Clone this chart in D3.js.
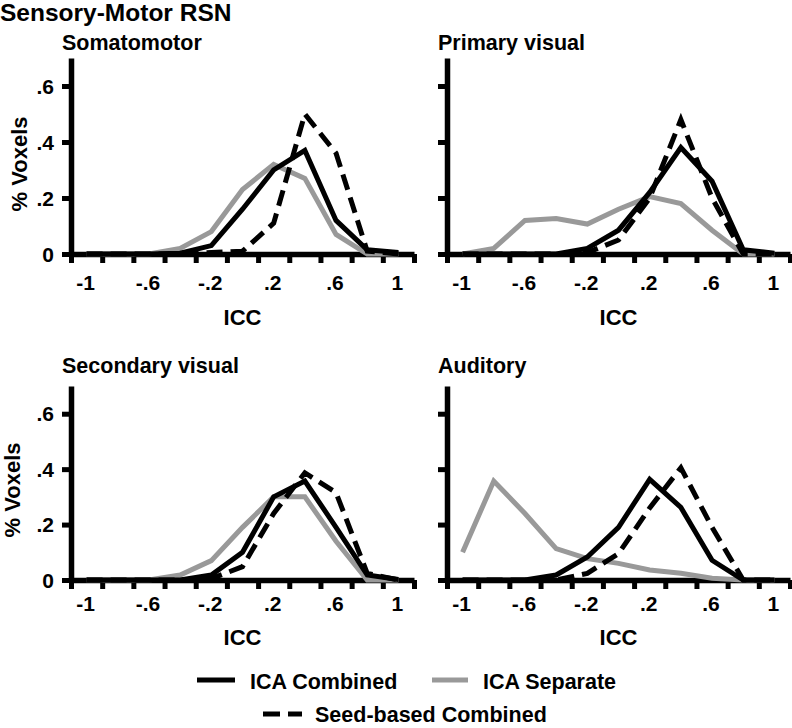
<!DOCTYPE html>
<html>
<head>
<meta charset="utf-8">
<script src="https://cdn.jsdelivr.net/npm/d3@7"></script>
<style>
  body { margin: 0; background: #fff; }
  svg { display: block; font-family: "Liberation Sans", Arial, sans-serif; font-weight: bold; }
</style>
</head>
<body>
<svg id="chart" width="792" height="728"></svg>
<script>
// ICC bin centres and tick labels
var bins = [-1, -0.8, -0.6, -0.4, -0.2, 0, 0.2, 0.4, 0.6, 0.8, 1];
var binEdges = [-1.1, -0.9, -0.7, -0.5, -0.3, -0.1, 0.1, 0.3, 0.5, 0.7, 0.9, 1.1];
var xLabels = [-1, -0.6, -0.2, 0.2, 0.6, 1];
var yTicks = [0, 0.2, 0.4, 0.6];

// % voxels per bin
var somatoCombined = [0, 0, 0, 0.003, 0.03, 0.16, 0.30, 0.37, 0.12, 0.015, 0.005];
var somatoSeparate = [0, 0, 0, 0.02, 0.08, 0.23, 0.32, 0.27, 0.07, 0, 0];
var somatoSeed     = [0, 0, 0, 0, 0.005, 0.01, 0.11, 0.50, 0.36, 0.01, 0];

var primaryCombined = [0, 0, 0, 0, 0.02, 0.085, 0.22, 0.38, 0.26, 0.015, 0.003];
var primarySeparate = [0, 0.02, 0.12, 0.127, 0.107, 0.16, 0.205, 0.18, 0.085, 0, 0];
var primarySeed     = [0, 0, 0, 0, 0.005, 0.05, 0.20, 0.48, 0.20, 0, 0];

var secondaryCombined = [0, 0, 0, 0, 0.018, 0.10, 0.30, 0.357, 0.19, 0.018, 0.002];
var secondarySeparate = [0, 0, 0, 0.018, 0.07, 0.19, 0.30, 0.30, 0.14, 0, 0];
var secondarySeed     = [0, 0, 0, 0, 0.005, 0.048, 0.24, 0.387, 0.315, 0.024, 0];

var auditoryCombined = [0, 0, 0, 0.018, 0.083, 0.19, 0.363, 0.262, 0.071, 0, 0];
var auditorySeparate = [0.10, 0.357, 0.24, 0.113, 0.077, 0.06, 0.036, 0.024, 0.006, 0, 0];
var auditorySeed     = [0, 0, 0, 0, 0.024, 0.095, 0.26, 0.405, 0.19, 0, 0];

var panelNames = ["Somatomotor", "Primary visual", "Secondary visual", "Auditory"];

var panels = [
  {name: panelNames[0], x0: 71,  zero: 254, h: 196, titleY: 50,  tickY: 290, iccY: 325, ylab: true,  ylabX: 27,
   sep: somatoSeparate, comb: somatoCombined, seed: somatoSeed},
  {name: panelNames[1], x0: 447, zero: 254, h: 196, titleY: 50,  tickY: 290, iccY: 325, ylab: false,
   sep: primarySeparate, comb: primaryCombined, seed: primarySeed},
  {name: panelNames[2], x0: 71,  zero: 580, h: 194, titleY: 373, tickY: 611, iccY: 645, ylab: true,  ylabX: 20,
   sep: secondarySeparate, comb: secondaryCombined, seed: secondarySeed},
  {name: panelNames[3], x0: 447, zero: 580, h: 194, titleY: 373, tickY: 611, iccY: 645, ylab: false,
   sep: auditorySeparate, comb: auditoryCombined, seed: auditorySeed}
];

var grey = "#999999";
var svg = d3.select("#chart");

svg.append("text").attr("x", 0).attr("y", 21)
  .attr("font-size", 24.5).text("Sensory-Motor RSN");

function fmt(v) {
  if (v === 0) return "0";
  var s = d3.format("")(+v.toFixed(1));
  return s.replace("0.", ".").replace("−", "-");
}

panels.forEach(function(p) {
  var x = d3.scaleLinear().domain([-1.1, 1.1]).range([p.x0, p.x0 + 343]);
  var y = d3.scaleLinear().domain([0, 0.7]).range([p.zero, p.zero - p.h]);
  var g = svg.append("g");

  g.append("text").attr("x", p.x0 - 9).attr("y", p.titleY)
    .attr("font-size", 21.5).text(p.name);

  // x axis: ticks on bin edges, labels on bin centres
  var xAx = g.append("g").attr("transform", "translate(0," + p.zero + ")")
    .call(d3.axisBottom(x).tickValues(binEdges).tickSize(9).tickSizeOuter(0).tickFormat(""));
  xAx.select(".domain").attr("stroke-width", 5.5);
  xAx.selectAll(".tick line").attr("stroke-width", 5);

  g.selectAll(".xl").data(xLabels).enter().append("text")
    .attr("x", function(d) { return x(d) - 1; })
    .attr("y", p.tickY)
    .attr("text-anchor", "middle")
    .attr("font-size", 21)
    .text(fmt);

  // y axis
  var yAx = g.append("g").attr("transform", "translate(" + p.x0 + ",0)")
    .call(d3.axisLeft(y).tickValues(yTicks).tickSize(9).tickSizeOuter(0).tickFormat(""));
  yAx.select(".domain").attr("stroke-width", 5.5);
  yAx.selectAll(".tick line").attr("stroke-width", 5);

  if (p.ylab) {
    g.selectAll(".yl").data(yTicks).enter().append("text")
      .attr("x", p.x0 - 17)
      .attr("y", function(d) { return y(d); })
      .attr("dy", "0.36em")
      .attr("text-anchor", "end")
      .attr("font-size", 21)
      .text(fmt);
    g.append("text")
      .attr("transform", "translate(" + p.ylabX + "," + (p.zero - 90) + ") rotate(-90)")
      .attr("text-anchor", "middle")
      .attr("font-size", 22)
      .text("% Voxels");
  }

  g.append("text").attr("x", p.x0 + 171.5).attr("y", p.iccY)
    .attr("text-anchor", "middle").attr("font-size", 22).text("ICC");

  var line = d3.line()
    .x(function(d, i) { return x(bins[i]); })
    .y(function(d) { return y(d); });

  g.append("path").datum(p.sep).attr("d", line)
    .attr("fill", "none").attr("stroke", grey).attr("stroke-width", 5);
  g.append("path").datum(p.comb).attr("d", line)
    .attr("fill", "none").attr("stroke", "#000").attr("stroke-width", 5);
  g.append("path").datum(p.seed).attr("d", line)
    .attr("fill", "none").attr("stroke", "#000").attr("stroke-width", 5)
    .attr("stroke-dasharray", "16,8");
});

// legend
var legendItems = [
  {label: "ICA Combined", color: "#000", dash: null, x1: 197, x2: 235, y: 680, tx: 250, ty: 689},
  {label: "ICA Separate", color: grey, dash: null, x1: 432, x2: 468, y: 680, tx: 483, ty: 689},
  {label: "Seed-based Combined", color: "#000", dash: "17,8", x1: 263, x2: 302, y: 714, tx: 315, ty: 722}
];
var lg = svg.append("g");
legendItems.forEach(function(d) {
  lg.append("line").attr("x1", d.x1).attr("x2", d.x2).attr("y1", d.y).attr("y2", d.y)
    .attr("stroke", d.color).attr("stroke-width", 5)
    .attr("stroke-dasharray", d.dash);
  lg.append("text").attr("x", d.tx).attr("y", d.ty).attr("font-size", 21.5).text(d.label);
});
</script>
</body>
</html>
